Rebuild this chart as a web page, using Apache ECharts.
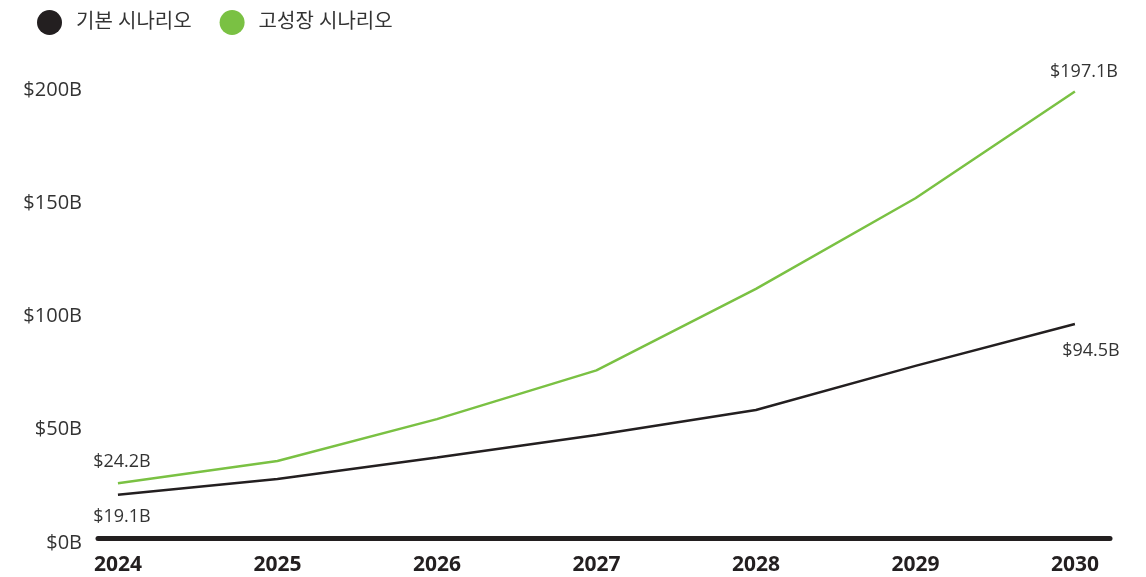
<!DOCTYPE html>
<html>
<head>
<meta charset="utf-8">
<script src="https://cdn.jsdelivr.net/npm/echarts@6/dist/echarts.min.js"></script>
<style>
  html, body { margin: 0; padding: 0; background: #fff; }
  #chart { width: 1146px; height: 577px; }
</style>
</head>
<body>
<div id="chart"></div>
<script>
var YEARS = [2024, 2025, 2026, 2027, 2028, 2029, 2030];
var BASE = [19.1, 26, 35.5, 45.5, 56.5, 76, 94.5];
var HIGH = [24.2, 34, 52.5, 74, 110, 150, 197.1];
var Y_TICKS = [0, 50, 100, 150, 200];
var NAMES = ["기본 시나리오", "고성장 시나리오"];

var INK = "#231f20";
var GREEN = "#7ac143";
var TEXT = "#333333";
var FONT = "'Open Sans','Noto Sans CJK KR','Noto Sans',sans-serif";

function fmtB(v) { return "$" + v + "B"; }

// only end points get a value label
function pairs(vals, labelAt) {
  return vals.map(function(v, i) {
    var item = { value: [YEARS[i], v] };
    if (labelAt[i]) item.label = Object.assign({ show: true, formatter: fmtB(v) }, labelAt[i]);
    return item;
  });
}

var chart = echarts.init(document.getElementById("chart"));
var lbl = { color: TEXT, fontSize: 18, fontFamily: FONT };

chart.setOption({
  animation: false,
  legend: {
    left: 32, top: 5, itemWidth: 25, itemHeight: 25, itemGap: 28, icon: "circle",
    textStyle: { color: TEXT, fontSize: 20, fontFamily: FONT, padding: [0, 0, 0, 9] },
    data: NAMES
  },
  grid: { left: 98, right: 36, top: 85, bottom: 39 },
  xAxis: {
    type: "value", min: 2023.875, max: 2030.22,
    axisLine: { show: true, lineStyle: { color: INK, width: 5, cap: "round" } },
    axisTick: { show: false },
    splitLine: { show: false },
    axisLabel: { customValues: YEARS, color: INK, fontSize: 21, fontWeight: "bold", fontFamily: FONT, margin: 17,
                 formatter: function(v) { return String(v); } }
  },
  yAxis: {
    type: "value", min: 0, max: 200, interval: 50,
    axisLine: { show: false }, axisTick: { show: false }, splitLine: { show: false },
    axisLabel: { customValues: Y_TICKS, color: TEXT, fontSize: 20, fontFamily: FONT, margin: 16,
                 verticalAlign: "top", lineHeight: 10, formatter: fmtB }
  },
  series: [
    { name: NAMES[0], type: "line", symbol: "circle", symbolSize: 0.1, z: 3,
      lineStyle: { color: INK, width: 2.5 }, itemStyle: { color: INK },
      label: lbl,
      data: pairs(BASE, {
        0: Object.assign({ position: "bottom", distance: 13, offset: [4, 0] }, lbl),
        6: Object.assign({ position: "bottom", distance: 18, offset: [16, 0] }, lbl)
      }) },
    { name: NAMES[1], type: "line", symbol: "circle", symbolSize: 0.1, z: 2,
      lineStyle: { color: GREEN, width: 2.5 }, itemStyle: { color: GREEN },
      label: lbl,
      data: pairs(HIGH, {
        0: Object.assign({ position: "top", distance: 12, offset: [4, 0] }, lbl),
        6: Object.assign({ position: "top", distance: 11, offset: [9, 0] }, lbl)
      }) }
  ]
});
</script>
</body>
</html>
